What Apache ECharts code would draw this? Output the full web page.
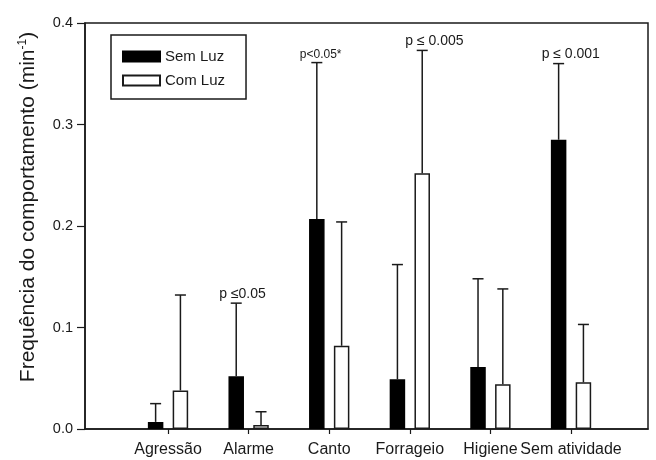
<!DOCTYPE html>
<html>
<head>
<meta charset="utf-8">
<script src="https://cdn.jsdelivr.net/npm/echarts@6/dist/echarts.min.js"></script>
<style>
  html, body { margin: 0; padding: 0; background: #fff; }
  #chart { width: 656px; height: 460px; }
</style>
</head>
<body>
<div id="chart"></div>
<script>
// Behaviour frequency (per minute) without and with light, mean and SD.
const categories = ['Agressão', 'Alarme', 'Canto', 'Forrageio', 'Higiene', 'Sem atividade'];
const semLuzMean = [0.007, 0.052, 0.207, 0.049, 0.061, 0.285];
const semLuzSD   = [0.018, 0.072, 0.154, 0.113, 0.087, 0.075];
const comLuzMean = [0.038, 0.004, 0.082, 0.252, 0.044, 0.046];
const comLuzSD   = [0.094, 0.013, 0.122, 0.121, 0.094, 0.057];
const yTicks = [0.0, 0.1, 0.2, 0.3, 0.4];

// Significance notes: category index, group (0 = Sem Luz, 1 = Com Luz), text
const noteCats   = [1, 2, 3, 5];
const noteGroups = [0, 0, 1, 0];
const noteTexts  = ['p ≤0.05', 'p<0.05*', 'p ≤ 0.005', 'p ≤ 0.001'];

const FONT = '"Liberation Sans", Arial, sans-serif';
const INK = '#1a1a1a';
const BAR_W = 15.5;
const GAP_RATIO = 0.6;
const HALF_STEP = (BAR_W + BAR_W * GAP_RATIO) / 2;   // bar centre offset from the category tick
const CAP = 5.5;

const catIdx = categories.map((c, i) => i);
const groupMeans = [semLuzMean, comLuzMean];
const groupSD = [semLuzSD, comLuzSD];

function errorBars(group) {
  const side = group === 0 ? -1 : 1;
  return {
    type: 'custom',
    z: 5,
    silent: true,
    data: catIdx.map(i => [i, groupMeans[group][i], groupMeans[group][i] + groupSD[group][i]]),
    renderItem: function (params, api) {
      const base = api.coord([api.value(0), api.value(1)]);
      const top = api.coord([api.value(0), api.value(2)]);
      const cx = base[0] + side * HALF_STEP;
      const st = { stroke: INK, lineWidth: 1.5 };
      return {
        type: 'group',
        children: [
          { type: 'line', shape: { x1: cx, y1: base[1], x2: cx, y2: top[1] }, style: st },
          { type: 'line', shape: { x1: cx - CAP, y1: top[1], x2: cx + CAP, y2: top[1] }, style: st }
        ]
      };
    }
  };
}

const noteSeries = {
  type: 'custom',
  z: 6,
  silent: true,
  data: noteCats.map((c, k) => {
    const g = noteGroups[k];
    return [c, groupMeans[g][c] + groupSD[g][c]];
  }),
  renderItem: function (params, api) {
    const k = params.dataIndex;
    const side = noteGroups[k] === 0 ? -1 : 1;
    const p = api.coord([api.value(0), api.value(1)]);
    const cx = p[0] + side * HALF_STEP;
    const small = noteTexts[k].indexOf('*') >= 0;
    return {
      type: 'text',
      x: cx - 17,
      y: p[1] - 2,
      style: {
        text: noteTexts[k],
        fill: INK,
        font: (small ? 12 : 14) + 'px ' + FONT,
        textAlign: 'left',
        textVerticalAlign: 'bottom'
      }
    };
  }
};

const chart = echarts.init(document.getElementById('chart'), null, { renderer: 'canvas' });
chart.setOption({
  animation: false,
  backgroundColor: '#fff',
  textStyle: { fontFamily: FONT },
  grid: {
    left: 85, right: 8, top: 23, bottom: 31,
    show: true, borderColor: INK, borderWidth: 1.5, backgroundColor: 'transparent'
  },
  // y-axis title
  graphic: [{
    type: 'text',
    x: 28, y: 207,
    rotation: Math.PI / 2,
    silent: true,
    style: {
      text: '{t|Frequência do comportamento (min}{s|-1}{t|)}',
      align: 'center',
      verticalAlign: 'middle',
      rich: {
        t: { fontSize: 21, fill: INK, fontFamily: FONT },
        s: { fontSize: 12, fill: INK, fontFamily: FONT, padding: [0, 0, 11, 0] }
      }
    }
  }],
  legend: {
    data: ['Sem Luz', 'Com Luz'],
    orient: 'vertical',
    left: 111, top: 35,
    padding: [14, 21, 11, 11],
    itemWidth: 37, itemHeight: 10, itemGap: 9, itemTextGap: 9,
    icon: 'rect',
    borderColor: INK, borderWidth: 1.5,
    textStyle: { fontSize: 15, color: INK, fontFamily: FONT },
    selectedMode: false
  },
  xAxis: {
    type: 'value',
    min: -1.03, max: 5.955,
    splitLine: { show: false },
    axisLine: { show: true, onZero: false, lineStyle: { color: INK, width: 1.5 } },
    axisTick: { show: true, length: 5, customValues: catIdx, lineStyle: { color: INK, width: 1.2 } },
    axisLabel: {
      customValues: catIdx,
      formatter: v => categories[Math.round(v)] || '',
      fontSize: 16, color: INK, margin: 13, fontFamily: FONT
    }
  },
  yAxis: {
    type: 'value',
    min: 0, max: 0.4, interval: 0.1,
    splitLine: { show: false },
    axisLine: { show: true, onZero: false, lineStyle: { color: INK, width: 1.5 } },
    axisTick: { show: true, length: 8, lineStyle: { color: INK, width: 1.2 } },
    axisLabel: {
      customValues: yTicks,
      formatter: v => v.toFixed(1),
      fontSize: 14.5, color: INK, margin: 12, fontFamily: FONT
    }
  },
  series: [
    {
      name: 'Sem Luz', type: 'bar',
      data: semLuzMean.map((v, i) => [i, v]),
      barWidth: BAR_W, barGap: (GAP_RATIO * 100) + '%',
      itemStyle: { color: '#000', borderColor: '#000', borderWidth: 1.5 }
    },
    {
      name: 'Com Luz', type: 'bar',
      data: comLuzMean.map((v, i) => [i, v]),
      barWidth: BAR_W, barGap: (GAP_RATIO * 100) + '%',
      itemStyle: { color: '#fff', borderColor: INK, borderWidth: 1.5 }
    },
    errorBars(0),
    errorBars(1),
    noteSeries
  ]
});
</script>
</body>
</html>
